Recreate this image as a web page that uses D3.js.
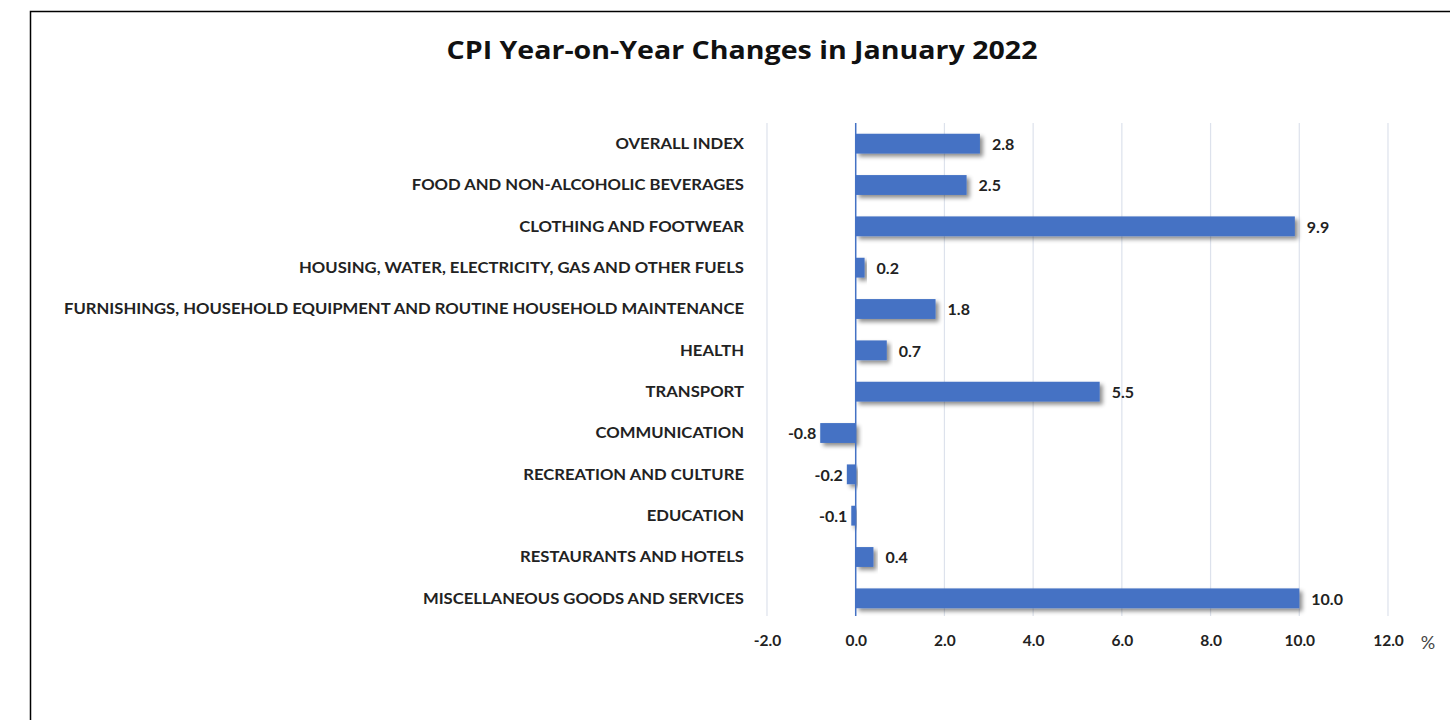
<!DOCTYPE html>
<html><head><meta charset="utf-8">
<script src="https://cdn.jsdelivr.net/npm/d3@7"></script>
<style>body{margin:0;background:#fff;} svg{display:block;}</style>
</head><body>
<svg id="c" width="1450" height="720"></svg>
<script>
const categories = ["OVERALL INDEX","FOOD AND NON-ALCOHOLIC BEVERAGES","CLOTHING AND FOOTWEAR","HOUSING, WATER, ELECTRICITY, GAS AND OTHER FUELS","FURNISHINGS, HOUSEHOLD EQUIPMENT AND ROUTINE HOUSEHOLD MAINTENANCE","HEALTH","TRANSPORT","COMMUNICATION","RECREATION AND CULTURE","EDUCATION","RESTAURANTS AND HOTELS","MISCELLANEOUS GOODS AND SERVICES"];
const values = [2.8,2.5,9.9,0.2,1.8,0.7,5.5,-0.8,-0.2,-0.1,0.4,10.0];
const ticks = [-2,0,2,4,6,8,10,12];

const svg = d3.select("#c");
const font = "Lato, 'Open Sans', sans-serif";
const fmt = d => d3.format(".1f")(d).replace("\u2212","-");
const defs = svg.append("defs");
const f = defs.append("filter").attr("id","sh").attr("x","-10%").attr("y","-30%").attr("width","130%").attr("height","180%");
f.append("feDropShadow").attr("dx",3).attr("dy",3).attr("stdDeviation",2).attr("flood-color","#000").attr("flood-opacity",0.45);

// border
svg.append("rect").attr("x",30.5).attr("y",11.5).attr("width",1440).attr("height",720).attr("fill","none").attr("stroke","#000").attr("stroke-width",1.5);

svg.append("text").attr("x",742).attr("y",59).attr("text-anchor","middle")
  .attr("font-family","'Open Sans', sans-serif").attr("font-weight","bold").attr("font-size",25).attr("fill","#111")
  .attr("textLength",591).attr("lengthAdjust","spacingAndGlyphs")
  .text("CPI Year-on-Year Changes in January 2022");

const x = d3.scaleLinear().domain([-2,12]).range([767,1388]);
const y = d3.scaleBand().domain(categories).range([123,619]).paddingInner(0.52).paddingOuter(0.26);

// grid
svg.append("g").selectAll("line").data(ticks.filter(t=>t!==0)).join("line")
  .attr("x1",d=>x(d)).attr("x2",d=>x(d)).attr("y1",123).attr("y2",616)
  .attr("stroke","#dde2ec").attr("stroke-width",1.2);

// bars
svg.append("g").selectAll("rect").data(values).join("rect")
  .attr("x",(d)=>x(Math.min(0,d)))
  .attr("width",d=>Math.abs(x(d)-x(0)))
  .attr("y",(d,i)=>y(categories[i]))
  .attr("height",y.bandwidth())
  .attr("fill","#4472C4").attr("filter","url(#sh)");

// zero axis
svg.append("line").attr("x1",x(0)).attr("x2",x(0)).attr("y1",123).attr("y2",616).attr("stroke","#4472C4").attr("stroke-width",1.5);

// category labels
const cl = svg.append("g").selectAll("text").data(categories).join("text")
  .attr("x",744).attr("y",d=>y(d)+y.bandwidth()/2).attr("dy","0.35em").attr("text-anchor","end")
  .attr("font-family",font).attr("font-weight","bold").attr("font-size",14.5).attr("fill","#222")
  .text(d=>d);
let maxW = 0; cl.each(function(){ maxW = Math.max(maxW, this.getComputedTextLength()); });
const sc = 680 / maxW;
cl.each(function(){ const w=this.getComputedTextLength(); d3.select(this).attr("textLength", w*sc).attr("lengthAdjust","spacingAndGlyphs").attr("font-size",14.5*Math.min(sc,1.08)); });

// value labels
svg.append("g").selectAll("text").data(values).join("text")
  .attr("x",d=> d>=0 ? x(d)+12 : x(d)-4)
  .attr("y",(d,i)=>y(categories[i])+y.bandwidth()/2).attr("dy","0.4em")
  .attr("text-anchor",d=> d>=0 ? "start":"end")
  .attr("font-family",font).attr("font-weight","bold").attr("font-size",16).attr("fill","#222")
  .text(d=>fmt(d));

// axis
const ax = svg.append("g").attr("transform","translate(0,641)")
  .call(d3.axisBottom(x).tickValues(ticks).tickFormat(fmt).tickSize(0));
ax.select(".domain").remove();
ax.selectAll("text").attr("font-family",font).attr("font-weight","bold").attr("font-size",15.5).attr("fill","#222").attr("dy","0.32em").attr("y",0);

svg.append("text").attr("x",1428).attr("y",649).attr("text-anchor","middle")
  .attr("font-family",font).attr("font-size",18).attr("fill","#444").text("%");
</script>
</body></html>
